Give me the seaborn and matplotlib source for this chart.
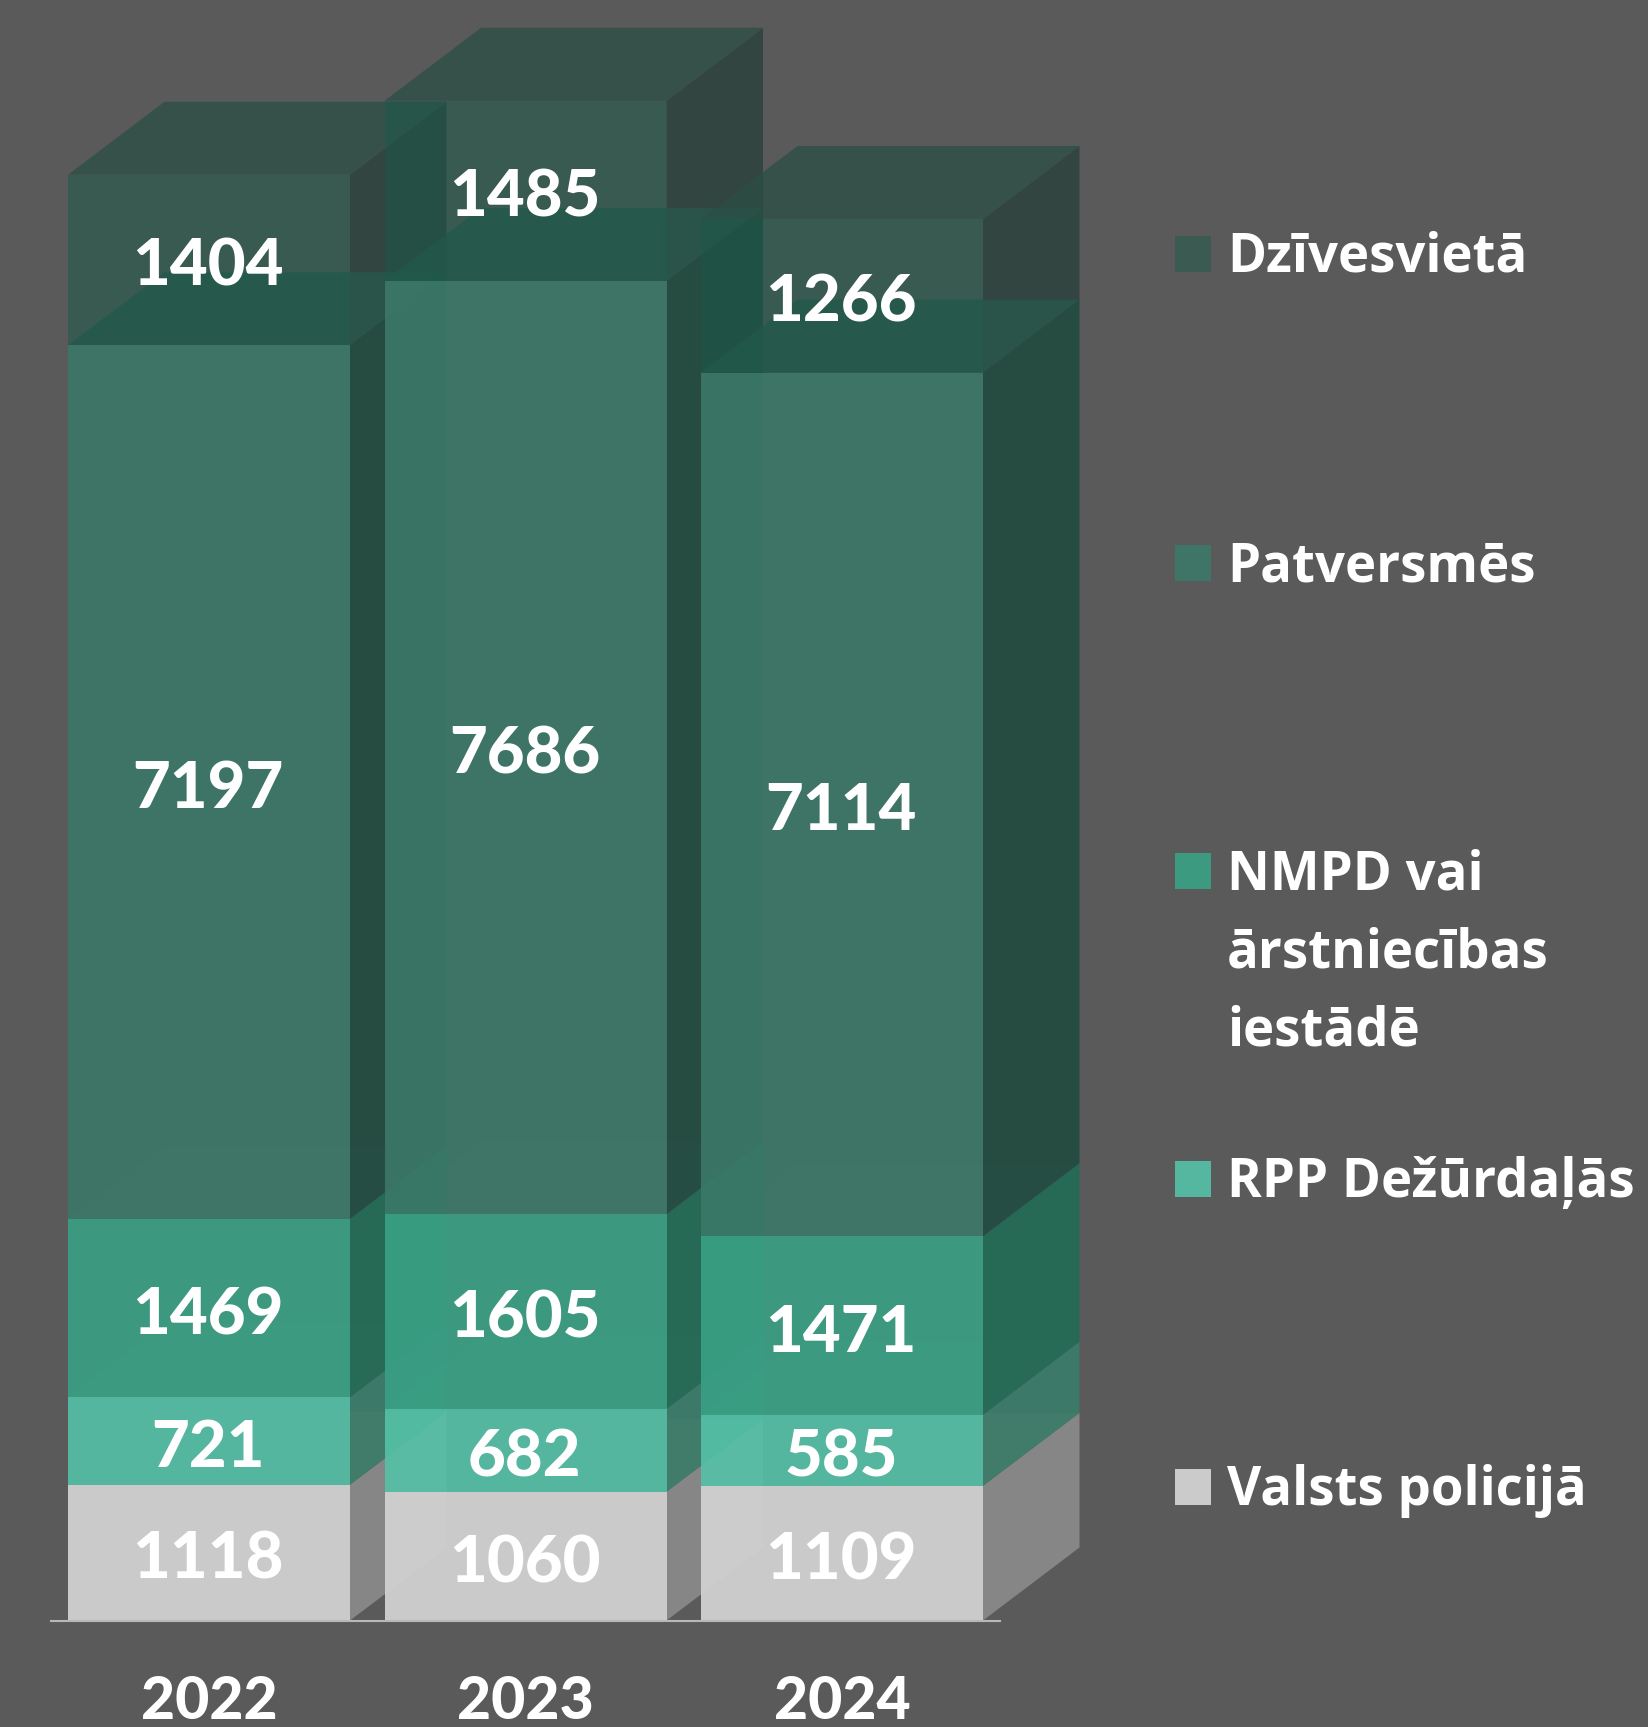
import matplotlib
matplotlib.use("Agg")
import matplotlib.pyplot as plt
from matplotlib.patches import Polygon, Rectangle
import pandas as pd
import seaborn as sns

years = ["2022", "2023", "2024"]
series_names = ["Valsts policijā", "RPP Dežūrdaļās", "NMPD vai\nārstniecības\niestādē", "Patversmēs", "Dzīvesvietā"]
valsts = [1118, 1060, 1109]
rpp = [721, 682, 585]
nmpd = [1469, 1605, 1471]
patversmes = [7197, 7686, 7114]
dzivesvieta = [1404, 1485, 1266]
series_values = [valsts, rpp, nmpd, patversmes, dzivesvieta]

BG = "#5a5a5a"
front_colors = ["#d1d1d1", "#54c1a7", "#39a185", "#3b7868", "#1a5a4a"]
front_alpha = [0.95, 0.9, 0.9, 0.9, 0.5]
side_colors = ["#929292", "#35826c", "#1a6d54", "#19483b", "#0c322a"]
side_alpha = [0.8, 0.8, 0.8, 0.8, 0.5]
top_colors = ["#e0e0e0", "#56c0a5", "#3fa88c", "#28584c", "#2a4f44"]
top_alpha = [0.03, 0.03, 0.03, 0.75, 0.75]
legend_colors = ["#cbcbcb", "#55b79f", "#3c9a81", "#3e7567", "#3a5a52"]

W, H = 1649, 1727
BASE_PX = 1620.5
PX_PER_UNIT = 0.1214
BAR_STEP = 316.5
BAR_WIDTH = 282 / BAR_STEP
X0_PX = 209
DX = 96.5 / BAR_STEP
DY = 73 / PX_PER_UNIT
FONT = ["Lato", "DejaVu Sans"]
LEGEND_FONT = ["Open Sans", "DejaVu Sans"]

sns.set_theme(style="white")
plt.rcParams["font.family"] = FONT
plt.rcParams["font.weight"] = "bold"

fig = plt.figure(figsize=(W / 100, H / 100), dpi=100, facecolor=BG)
ax = fig.add_axes([0, (H - BASE_PX) / H, 1, BASE_PX / H], facecolor=BG)

df = pd.DataFrame({"year": years})
bottoms = [0, 0, 0]
for s, vals in enumerate(series_values):
    df["value"] = vals
    sns.barplot(data=df, x="year", y="value", bottom=bottoms, color=front_colors[s],
                saturation=1, alpha=front_alpha[s], width=BAR_WIDTH, linewidth=0,
                errorbar=None, ax=ax)
    cont = ax.containers[-1]
    for i, bar in enumerate(cont):
        bar.set_zorder(10 * i + 5 + 0.1 * s)
        l, r = bar.get_x(), bar.get_x() + bar.get_width()
        y0, y1 = bottoms[i], bottoms[i] + vals[i]
        ax.add_patch(Polygon([(r, y0), (r + DX, y0 + DY), (r + DX, y1 + DY), (r, y1)],
                             closed=True, facecolor=side_colors[s], alpha=side_alpha[s],
                             linewidth=0, zorder=10 * i + 2 + 0.1 * s))
        ax.add_patch(Polygon([(l, y1), (l + DX, y1 + DY), (r + DX, y1 + DY), (r, y1)],
                             closed=True, facecolor=top_colors[s], alpha=top_alpha[s],
                             linewidth=0, zorder=10 * i + 3 + 0.1 * s))
        ax.text(i - 0.003, (y0 + y1) / 2 - 62, str(vals[i]), ha="center", va="center",
                color="white", fontsize=47, fontweight=900, zorder=100)
    bottoms = [b + v for b, v in zip(bottoms, vals)]

ax.set_xlim(-X0_PX / BAR_STEP, (W - X0_PX) / BAR_STEP)
ax.set_ylim(0, BASE_PX / PX_PER_UNIT)
ax.set_xlabel("")
ax.set_ylabel("")
ax.set_yticks([])
ax.tick_params(axis="x", length=0, pad=39, labelsize=42.5, labelcolor="white")
for t in ax.get_xticklabels():
    t.set_fontweight(900)
for side in ["top", "left", "right"]:
    ax.spines[side].set_visible(False)
ax.spines["bottom"].set_visible(True)
ax.spines["bottom"].set_bounds(-0.5, 2.5)
ax.spines["bottom"].set_color("#b8b8b8")
ax.spines["bottom"].set_linewidth(1.5)
ax.spines["bottom"].set_zorder(90)

# legend, top entry first
legend_bottom_px = [272, 581, 889, 1197, 1505]
for name, col, yb in zip(series_names[::-1], legend_colors[::-1], legend_bottom_px):
    fig.add_artist(Rectangle((1175 / W, 1 - yb / H), 36 / W, 36 / H, transform=fig.transFigure,
                             facecolor=col, edgecolor="none"))
    for k, line in enumerate(name.split("\n")):
        fig.text(1227 / W, 1 - (yb + 78 * k) / H, line, color="white", fontsize=38,
                 fontweight="bold", family=LEGEND_FONT, ha="left", va="baseline")

fig.savefig("out.png", dpi=100, facecolor=BG)
